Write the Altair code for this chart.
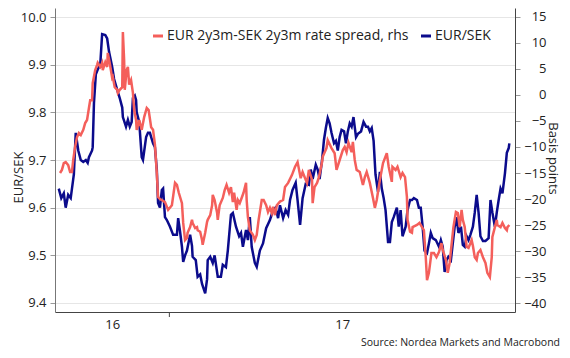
import altair as alt
import pandas as pd

START = "2015-10-02"

# EUR/SEK (left axis): days since START and level
eursek_day = [6, 10, 14, 17, 21, 25, 29, 30, 33, 37, 41, 45, 49, 52, 54, 59, 60, 62, 65, 68,
              72, 75, 80, 83, 86, 91, 94, 99, 103, 107, 108, 113, 116, 119, 122, 124, 127, 129, 130, 134,
              138, 140, 145, 148, 151, 156, 159, 162, 164, 167, 170, 172, 175, 178, 183, 188, 194, 196, 199, 202,
              204, 207, 210, 215, 218, 219, 224, 227, 231, 234, 239, 242, 243, 247, 251, 254, 259, 264, 267, 272,
              275, 280, 283, 288, 293, 296, 299, 304, 307, 310, 313, 318, 321, 326, 331, 336, 342, 347, 351, 355,
              358, 363, 367, 371, 374, 378, 383, 386, 390, 394, 399, 404, 407, 410, 415, 418, 421, 425, 428, 431,
              434, 437, 440, 444, 447, 450, 453, 456, 460, 463, 466, 469, 472, 475, 479, 482, 487, 491, 495, 498,
              501, 504, 507, 510, 514, 517, 520, 523, 526, 530, 533, 536, 539, 544, 547, 550, 553, 558, 561, 565,
              568, 571, 576, 579, 582, 585, 588, 592, 595, 598, 601, 606, 611, 614, 617, 620, 623, 626, 630, 633,
              636, 639, 642, 646, 649, 652, 655, 658, 661, 665, 668, 671, 674, 677, 681, 685, 690, 693, 696, 700,
              703, 706, 709, 712, 716, 719, 722, 723]
eursek = [9.64, 9.62, 9.63, 9.60, 9.627, 9.62, 9.66, 9.67, 9.757, 9.72, 9.70, 9.696, 9.70, 9.694, 9.706, 9.72, 9.727, 9.82, 9.88, 9.89,
          9.90, 9.964, 9.962, 9.955, 9.927, 9.895, 9.87, 9.847, 9.83, 9.81, 9.79, 9.77, 9.784, 9.77, 9.78, 9.83, 9.835, 9.826, 9.80, 9.78,
          9.706, 9.70, 9.748, 9.757, 9.757, 9.735, 9.727, 9.68, 9.61, 9.60, 9.637, 9.64, 9.58, 9.574, 9.56, 9.543, 9.543, 9.578, 9.55, 9.518,
          9.486, 9.50, 9.51, 9.543, 9.52, 9.497, 9.49, 9.455, 9.46, 9.44, 9.42, 9.45, 9.49, 9.497, 9.484, 9.50, 9.455, 9.455, 9.48, 9.475,
          9.51, 9.585, 9.589, 9.56, 9.54, 9.547, 9.518, 9.553, 9.532, 9.58, 9.518, 9.484, 9.476, 9.51, 9.525, 9.557, 9.574, 9.595, 9.60, 9.578,
          9.605, 9.578, 9.595, 9.585, 9.616, 9.637, 9.652, 9.616, 9.564, 9.62, 9.65, 9.648, 9.68, 9.66, 9.69, 9.68, 9.66, 9.70, 9.742, 9.767,
          9.788, 9.777, 9.757, 9.735, 9.74, 9.72, 9.748, 9.763, 9.76, 9.735, 9.76, 9.777, 9.77, 9.79, 9.748, 9.755, 9.76, 9.78, 9.77, 9.77,
          9.76, 9.767, 9.74, 9.67, 9.633, 9.675, 9.64, 9.62, 9.595, 9.528, 9.528, 9.57, 9.58, 9.60, 9.56, 9.595, 9.54, 9.56, 9.595, 9.616,
          9.616, 9.62, 9.616, 9.60, 9.60, 9.56, 9.51, 9.505, 9.525, 9.547, 9.536, 9.532, 9.518, 9.532, 9.518, 9.465, 9.49, 9.497, 9.49, 9.525,
          9.56, 9.58, 9.547, 9.56, 9.522, 9.518, 9.54, 9.532, 9.543, 9.56, 9.59, 9.627, 9.59, 9.54, 9.53, 9.53, 9.536, 9.616, 9.59, 9.56,
          9.59, 9.616, 9.64, 9.63, 9.672, 9.715, 9.725, 9.735]

# EUR 2y3m - SEK 2y3m rate spread (right axis, bp)
spread_day = [8, 11, 14, 17, 21, 24, 27, 29, 32, 35, 38, 41, 45, 48, 51, 54, 56, 59, 60, 64,
              67, 68, 72, 75, 76, 80, 83, 84, 87, 91, 92, 95, 99, 100, 103, 107, 108, 110, 111, 114,
              116, 118, 121, 124, 126, 129, 130, 134, 138, 142, 146, 149, 153, 156, 159, 162, 164, 167, 170, 175,
              180, 186, 191, 194, 197, 202, 204, 207, 210, 211, 215, 218, 219, 223, 226, 227, 231, 234, 235, 239,
              242, 243, 247, 250, 251, 254, 258, 259, 262, 267, 270, 273, 277, 280, 283, 285, 289, 291, 294, 297,
              300, 304, 305, 307, 310, 315, 318, 321, 324, 329, 332, 336, 339, 342, 345, 347, 350, 353, 358, 363,
              366, 371, 377, 382, 386, 391, 394, 401, 404, 409, 410, 413, 417, 420, 425, 426, 432, 434, 440, 445,
              448, 453, 458, 461, 464, 467, 472, 474, 477, 480, 485, 490, 493, 496, 501, 506, 509, 512, 517, 522,
              528, 531, 536, 537, 542, 545, 550, 553, 557, 560, 561, 565, 568, 569, 576, 580, 584, 587, 590, 592,
              595, 599, 603, 607, 611, 615, 617, 622, 625, 628, 631, 634, 638, 641, 644, 647, 649, 652, 655, 658,
              663, 665, 668, 671, 673, 677, 681, 685, 688, 692, 695, 696, 700, 703, 704, 709, 712, 716, 719, 720,
              723]
spread = [-15.0, -14.4, -13.1, -12.9, -13.5, -14.8, -14.8, -12.5, -10.0, -8.1, -7.3, -7.7, -6.7, -5.4, -4.8, -2.5, -1.0, -1.0, 2.3, 4.8,
          5.8, 6.2, 5.4, 6.2, 4.8, 6.3, 5.4, 8.1, 6.2, 3.3, 3.5, 1.5, 1.0, 0.4, 1.0, 1.5, 12.1, 6.7, 1.0, 4.8,
          5.4, 2.0, 2.9, 0.4, -2.9, -4.8, -6.7, -4.8, -6.7, -4.2, -2.5, -2.9, -6.2, -6.7, -9.5, -15.0, -19.6, -20.0, -20.2, -20.6,
          -22.1, -21.2, -16.9, -17.3, -18.8, -20.8, -24.6, -27.9, -27.5, -26.5, -25.4, -24.0, -24.6, -25.6, -25.4, -26.0, -26.3, -27.9, -28.8, -26.5,
          -24.4, -24.0, -23.1, -21.2, -19.2, -20.2, -22.7, -24.0, -21.2, -19.8, -18.3, -17.3, -18.8, -17.7, -20.6, -18.8, -22.1, -20.2, -20.8, -19.8,
          -18.8, -16.9, -20.2, -23.5, -26.0, -26.9, -27.9, -26.9, -24.0, -20.2, -20.2, -21.2, -22.5, -21.7, -22.7, -21.5, -23.1, -21.2, -20.5, -20.2,
          -17.7, -16.9, -15.4, -13.8, -12.9, -16.0, -14.8, -16.9, -14.4, -16.3, -20.8, -17.7, -16.9, -15.8, -12.9, -11.9, -10.2, -8.7, -10.2, -11.2,
          -14.4, -12.5, -10.6, -10.0, -11.0, -9.2, -11.0, -9.0, -12.5, -14.4, -14.8, -17.3, -15.8, -14.8, -16.9, -19.8, -21.7, -20.2, -16.3, -13.1,
          -11.2, -13.8, -16.7, -13.8, -14.4, -13.8, -15.8, -15.0, -15.8, -19.6, -24.0, -26.3, -26.5, -25.4, -25.0, -24.6, -25.4, -26.0, -31.2, -35.6,
          -34.2, -30.4, -30.4, -31.2, -30.2, -28.5, -29.8, -31.7, -34.2, -32.3, -28.8, -25.4, -22.5, -22.7, -25.4, -22.1, -24.0, -25.4, -29.2, -29.4,
          -27.9, -29.0, -31.2, -31.7, -30.4, -29.8, -31.2, -32.3, -34.2, -35.0, -31.2, -27.3, -25.4, -24.0, -25.0, -25.4, -24.6, -25.6, -26.0, -25.4,
          -25.0]

SERIES = ["EUR 2y3m-SEK 2y3m rate spread, rhs", "EUR/SEK"]
COLORS = ["#F45F5B", "#0B0B8C"]
left_ticks = [9.4, 9.5, 9.6, 9.7, 9.8, 9.9, 10.0]
right_ticks = [15, 10, 5, 0, -5, -10, -15, -20, -25, -30, -35, -40]
tick_date = ["2016-04-01"]
SOURCE = "Source: Nordea Markets and Macrobond"

FONT = "Open Sans"
W, H = 460, 304

start = pd.Timestamp(START)
df_fx = pd.DataFrame({"date": start + pd.to_timedelta(eursek_day, unit="D"), "value": eursek, "series": SERIES[1]})
df_sp = pd.DataFrame({"date": start + pd.to_timedelta(spread_day, unit="D"), "value": spread, "series": SERIES[0]})
df_tick = pd.DataFrame({"date": pd.to_datetime(tick_date)})
df_src = pd.DataFrame({"t": [SOURCE]})

x_scale = alt.Scale(domain=[alt.DateTime(year=2015, month=10, date=2), alt.DateTime(year=2017, month=10, date=3)])
x_axis = alt.Axis(values=[alt.DateTime(year=2016, month=1, date=1), alt.DateTime(year=2017, month=1, date=1)],
                  format="%y", ticks=False, grid=False, title=None, labelPadding=6, labelFontSize=13,
                  domainColor="#444", labelColor="#222", labelFont=FONT)


def xenc():
    return alt.X("date:T", scale=x_scale, axis=x_axis)


color_enc = alt.Color("series:N", scale=alt.Scale(domain=SERIES, range=COLORS),
                      legend=alt.Legend(orient="none", legendX=96, legendY=21, direction="horizontal", title=None,
                                        symbolType="stroke", symbolStrokeWidth=3, symbolSize=100, labelFontSize=14,
                                        labelFont=FONT, labelColor="#222", columnPadding=6, labelOffset=2,
                                        labelLimit=400, padding=0))

fx = alt.Chart(df_fx).mark_line(strokeWidth=2.5).encode(
    x=xenc(),
    y=alt.Y("value:Q", scale=alt.Scale(domain=[9.3811, 10.0189], nice=False, zero=False),
            axis=alt.Axis(orient="left", values=left_ticks, format=".1f", title="EUR/SEK", grid=True,
                          gridColor="#e6e6e6", tickSize=5, tickColor="#999", domainColor="#777",
                          labelPadding=4, labelFontSize=13, labelColor="#222", labelFont=FONT,
                          titleFont=FONT, titleFontSize=13, titleFontWeight="normal", titleColor="#222",
                          titleX=-37, titleY=169, titleAlign="center", titleBaseline="middle", titleAngle=270)),
    color=color_enc,
)

sp = alt.Chart(df_sp).mark_line(strokeWidth=2.5).encode(
    x=xenc(),
    y=alt.Y("value:Q", scale=alt.Scale(domain=[-41.73, 16.73], nice=False, zero=False),
            axis=alt.Axis(orient="right", values=right_ticks, format="d", title="Basis points", grid=False,
                          tickSize=5, tickColor="#999", domainColor="#444", labelAlign="right",
                          labelPadding=26, labelFontSize=13, labelColor="#222", labelFont=FONT,
                          titleFont=FONT, titleFontSize=13, titleFontWeight="normal", titleColor="#222",
                          titleX=37, titleY=150, titleAlign="center", titleBaseline="middle", titleAngle=90)),
    color=color_enc,
)

tick = alt.Chart(df_tick).mark_rule(color="#444", strokeWidth=1).encode(
    x=xenc(), y=alt.value(H), y2=alt.value(H + 5)
)

src = alt.Chart(df_src).mark_text(align="right", baseline="middle", fontSize=10.5, font=FONT, color="#222").encode(
    text="t:N", x=alt.value(505), y=alt.value(335)
)

chart = alt.layer(fx, sp, tick, src).resolve_scale(y="independent").properties(
    width=W, height=H, autosize=alt.AutoSizeParams(type="none"),
    padding={"left": 47, "top": 0, "right": 47, "bottom": 39},
).configure_view(stroke=None)

chart.save("out.html", embed_options={"renderer": "svg", "actions": False})
